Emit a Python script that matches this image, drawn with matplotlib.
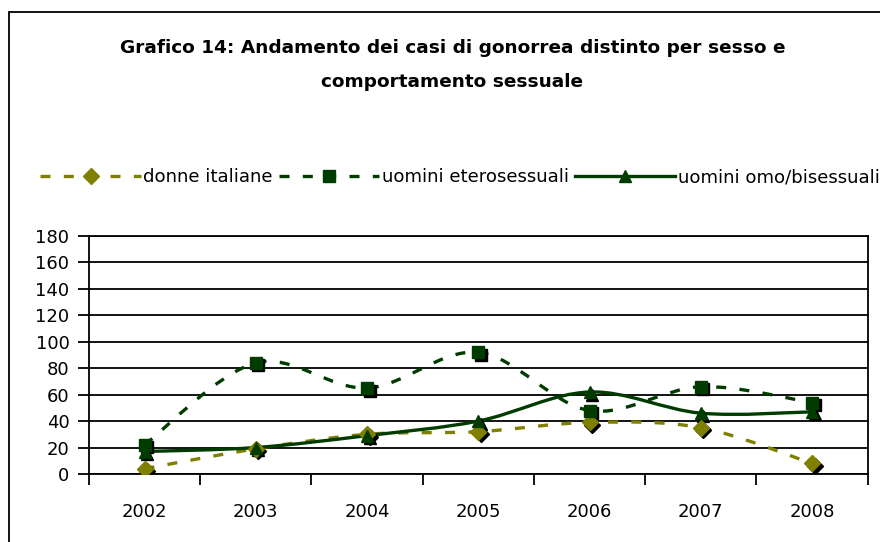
import matplotlib
matplotlib.use("Agg")
import matplotlib.pyplot as plt
from matplotlib.path import Path
from matplotlib.patches import PathPatch, Rectangle
from matplotlib.lines import Line2D
from matplotlib.transforms import offset_copy

years = ["2002", "2003", "2004", "2005", "2006", "2007", "2008"]
donne_italiane = [4, 19, 30, 32, 39, 35, 8]
uomini_etero = [22, 84, 65, 92, 48, 66, 54]
uomini_omo = [17, 20, 29, 40, 62, 46, 47]

OLIVE = "#808000"
DKGREEN = "#003C00"


def smooth_path(xs, ys):
    # Excel-style smoothed line: Catmull-Rom converted to cubic Bezier
    pts = list(zip(xs, ys))
    verts = [pts[0]]
    codes = [Path.MOVETO]
    n = len(pts)
    for i in range(n - 1):
        p0 = pts[i - 1] if i > 0 else pts[i]
        p1 = pts[i]
        p2 = pts[i + 1]
        p3 = pts[i + 2] if i + 2 < n else pts[i + 1]
        c1 = (p1[0] + (p2[0] - p0[0]) / 6, p1[1] + (p2[1] - p0[1]) / 6)
        c2 = (p2[0] - (p3[0] - p1[0]) / 6, p2[1] - (p3[1] - p1[1]) / 6)
        verts += [c1, c2, p2]
        codes += [Path.CURVE4] * 3
    return Path(verts, codes)


fig = plt.figure(figsize=(8.8, 5.42), dpi=100)
ax = fig.add_axes([0.101, 0.1255, 0.885, 0.4391])

x = list(range(len(years)))
series = [
    (donne_italiane, OLIVE, (0, (3, 4)), "D", 8, "donne italiane"),
    (uomini_etero, DKGREEN, (0, (3, 4)), "s", 9, "uomini eterosessuali"),
    (uomini_omo, DKGREEN, "-", "^", 9, "uomini omo/bisessuali"),
]

shadow = offset_copy(ax.transData, fig=fig, x=2.5, y=-2.5, units="dots")
handles = []
for vals, col, ls, mk, ms, name in series:
    patch = PathPatch(smooth_path(x, vals), facecolor="none", edgecolor=col,
                      lw=2.4, linestyle=ls, zorder=3, capstyle="butt")
    ax.add_patch(patch)
    ax.plot(x, vals, linestyle="none", marker=mk, ms=ms, color="black",
            transform=shadow, zorder=4)
    ax.plot(x, vals, linestyle="none", marker=mk, ms=ms, color=col, zorder=5)
    handles.append(Line2D([], [], color=col, lw=2.4, linestyle=ls,
                          marker=mk, ms=ms, label=name))

ax.set_xlim(-0.5, len(years) - 0.5)
ax.set_ylim(0, 180)
ax.set_yticks(range(0, 181, 20))
ax.set_xticks([i + 0.5 for i in range(-1, len(years))], minor=False)
ax.set_xticklabels([])
ax.set_xticks(x, minor=True)
ax.set_xticklabels(years, minor=True)
ax.tick_params(axis="x", which="major", length=8, width=1.3, direction="out")
ax.tick_params(axis="x", which="minor", length=0, pad=21, labelsize=13)
ax.tick_params(axis="y", length=8, width=1.3, labelsize=13, pad=6)
ax.yaxis.grid(True, color="black", lw=1.3)
ax.set_axisbelow(True)
for sp in ax.spines.values():
    sp.set_linewidth(1.3)

fig.text(0.514, 0.911, "Grafico 14: Andamento dei casi di gonorrea distinto per sesso e",
         ha="center", va="center", fontsize=13.3, fontweight="bold")
fig.text(0.514, 0.849, "comportamento sessuale",
         ha="center", va="center", fontsize=13.3, fontweight="bold")

fig.legend(handles=handles, loc="center", bbox_to_anchor=(0.523, 0.673), ncol=3,
           frameon=False, fontsize=13.1, handlelength=5.5, handletextpad=0.15,
           columnspacing=0.35)

fig.patches.append(Rectangle((9 / 880, -0.1), 1.2, 1.1 - 12 / 542, transform=fig.transFigure,
                             fill=False, edgecolor="black", lw=1.3))

fig.savefig("out.png", dpi=100)
